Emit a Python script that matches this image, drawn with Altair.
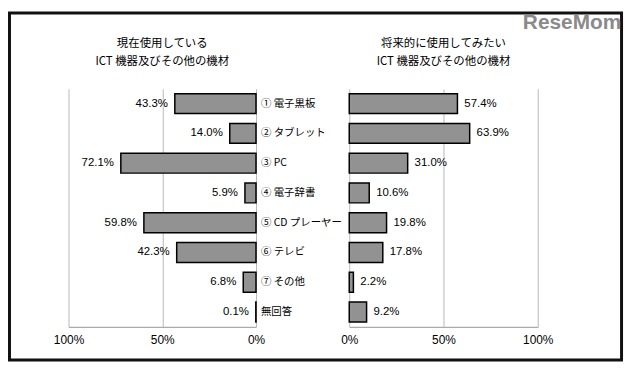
import altair as alt
import pandas as pd

categories = ["① 電子黒板", "② タブレット", "③ PC", "④ 電子辞書",
              "⑤ CD プレーヤー", "⑥ テレビ", "⑦ その他", "無回答"]
current = [43.3, 14.0, 72.1, 5.9, 59.8, 42.3, 6.8, 0.1]
future = [57.4, 63.9, 31.0, 10.6, 19.8, 17.8, 2.2, 9.2]
tick_values = [0, 50, 100]
title_left = ["現在使用している", "ICT 機器及びその他の機材"]
title_right = ["将来的に使用してみたい", "ICT 機器及びその他の機材"]
logo_text = "ReseMom"

df = pd.DataFrame({"cat": categories, "cur": current, "fut": future})
one = pd.DataFrame({"p": [50]})

W, H = 473, 240
left_scale = alt.Scale(domain=[0, 100], range=[189, 0], nice=False)
right_scale = alt.Scale(domain=[0, 100], range=[283, 473], nice=False)
y_enc = alt.Y("cat:N", sort=categories, axis=None,
              scale=alt.Scale(paddingInner=1 / 3, paddingOuter=1 / 6))

CJK = "Noto Sans CJK JP"
NUM = "Liberation Sans Narrow, Arial Narrow, Liberation Sans"

axis_common = dict(values=tick_values, labelExpr="datum.value + '%'", title=None,
                   ticks=False, labelPadding=8, labelFontSize=12,
                   labelFont="Liberation Sans", labelColor="#000",
                   labelFlush=False, labelOverlap=False, labelBound=False,
                   domainColor="#aaaaaa", domainWidth=1.5,
                   grid=True, gridColor="#b8b8b8", gridWidth=1, orient="bottom")

bar_style = dict(fill="#929292", stroke="#000", strokeWidth=1.5)

border = alt.Chart(one).mark_rect(fill="white", fillOpacity=0, stroke="#111",
                                  strokeWidth=3).encode(
    x=alt.value(-59.5), x2=alt.value(557.5), y=alt.value(-76.5), y2=alt.value(273.5))

t_left = alt.Chart(one).mark_text(font=CJK, fontSize=11.5, lineHeight=18,
                                  baseline="middle", align="center", color="#000").encode(
    x=alt.X("p:Q", scale=left_scale, axis=None), y=alt.value(-45),
    text=alt.value(title_left))
t_right = alt.Chart(one).mark_text(font=CJK, fontSize=11.5, lineHeight=18,
                                   baseline="middle", align="center", color="#000").encode(
    x=alt.X("p:Q", scale=right_scale, axis=None), y=alt.value(-45),
    text=alt.value(title_right))

logo = alt.Chart(one).mark_text(font="Liberation Sans", fontSize=21, fontWeight="bold",
                                color="#8a8a8a", align="left", baseline="middle").encode(
    x=alt.value(458), y=alt.value(-66), text=alt.value(logo_text))

base = alt.Chart(df).transform_calculate(
    curlab="format(datum.cur, '.1f') + '%'",
    futlab="format(datum.fut, '.1f') + '%'",
    zero="0")

left_bars = base.mark_bar(**bar_style).encode(
    x=alt.X("cur:Q", scale=left_scale, axis=alt.Axis(**axis_common)), y=y_enc)
left_text = base.mark_text(align="right", baseline="middle", dx=-7, font=NUM,
                           fontSize=11.5, color="#000").encode(
    x=alt.X("cur:Q", scale=left_scale, axis=None), y=y_enc, text="curlab:N")
cat_text = base.mark_text(align="left", baseline="middle", dx=5, font=CJK,
                          fontSize=10.5, color="#000").encode(
    x=alt.X("zero:Q", scale=left_scale, axis=None), y=y_enc, text="cat:N")

right_bars = base.mark_bar(**bar_style).encode(
    x=alt.X("fut:Q", scale=right_scale, axis=alt.Axis(**axis_common)), y=y_enc)
right_text = base.mark_text(align="left", baseline="middle", dx=7, font=NUM,
                            fontSize=11.5, color="#000").encode(
    x=alt.X("fut:Q", scale=right_scale, axis=None), y=y_enc, text="futlab:N")

chart = alt.layer(
    border, t_left, t_right, logo,
    left_bars, right_bars, left_text, cat_text, right_text
).resolve_scale(x="independent").properties(
    width=W, height=H,
    autosize=alt.AutoSizeParams(type="none"),
    padding={"left": 61, "top": 80, "right": 90, "bottom": 40},
    background="white",
).configure_view(stroke=None)

chart.save("out.html", embed_options={"renderer": "svg", "actions": False})
